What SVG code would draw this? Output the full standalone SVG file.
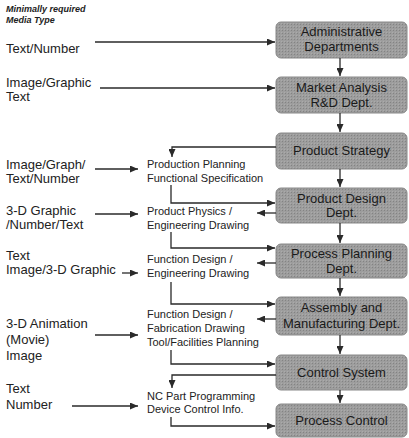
<svg xmlns="http://www.w3.org/2000/svg" width="409" height="438" viewBox="0 0 409 438">
<defs>
<marker id="ah" markerUnits="userSpaceOnUse" markerWidth="9" markerHeight="7" refX="8" refY="3.5" orient="auto">
<path d="M0,0 L8,3.5 L0,7 z" fill="#2a2a2a"/>
</marker>
<pattern id="ht" width="3" height="3" patternUnits="userSpaceOnUse">
<rect width="3" height="3" fill="#9d9d9d"/>
<rect width="1" height="1" fill="#838383"/>
<rect x="2" y="2" width="1" height="1" fill="#ababab"/>
</pattern>
</defs>
<style>
text{font-family:"Liberation Sans",Arial,sans-serif;fill:#222}
.hd{font-size:9px;font-weight:bold;font-style:italic}
.lb{font-size:13px}
.md{font-size:11px}
.bx text{font-size:13px;text-anchor:middle;fill:#1a1a1a}
.bx rect{fill:url(#ht);stroke:#888;stroke-width:1}
.cn path,.cn line{stroke:#2a2a2a;stroke-width:1.3;fill:none}
</style>
<rect width="409" height="438" fill="#fff"/>

<g id="heading">
<text class="hd" x="6" y="12">Minimally required</text>
<text class="hd" x="6" y="23">Media Type</text>
</g>

<g id="media-labels">
<text class="lb" x="6" y="53">Text/Number</text>
<text class="lb" x="6" y="87">Image/Graphic</text>
<text class="lb" x="6" y="101">Text</text>
<text class="lb" x="6" y="169">Image/Graph/</text>
<text class="lb" x="6" y="183">Text/Number</text>
<text class="lb" x="6" y="215">3-D Graphic</text>
<text class="lb" x="6" y="229">/Number/Text</text>
<text class="lb" x="6" y="260">Text</text>
<text class="lb" x="6" y="274">Image/3-D Graphic</text>
<text class="lb" x="6" y="328">3-D Animation</text>
<text class="lb" x="6" y="344">(Movie)</text>
<text class="lb" x="6" y="360">Image</text>
<text class="lb" x="6" y="393">Text</text>
<text class="lb" x="6" y="409">Number</text>
</g>

<g id="documents">
<text class="md" x="147" y="168">Production Planning</text>
<text class="md" x="147" y="182">Functional Specification</text>
<text class="md" x="147" y="215">Product Physics /</text>
<text class="md" x="147" y="229">Engineering Drawing</text>
<text class="md" x="147" y="263">Function Design /</text>
<text class="md" x="147" y="277">Engineering Drawing</text>
<text class="md" x="147" y="318">Function Design /</text>
<text class="md" x="147" y="332">Fabrication Drawing</text>
<text class="md" x="147" y="346">Tool/Facilities Planning</text>
<text class="md" x="147" y="400">NC Part Programming</text>
<text class="md" x="147" y="413">Device Control Info.</text>
</g>

<g id="admin" class="bx"><rect x="276" y="22" width="131" height="36" rx="5"/><text x="341.5" y="36">Administrative</text><text x="341.5" y="51">Departments</text></g>
<g id="market" class="bx"><rect x="276" y="77" width="131" height="36" rx="5"/><text x="341.5" y="92">Market Analysis</text><text x="341.5" y="107">R&amp;D Dept.</text></g>
<g id="strategy" class="bx"><rect x="276" y="133" width="131" height="36" rx="5"/><text x="341.5" y="155">Product Strategy</text></g>
<g id="design" class="bx"><rect x="276" y="188" width="131" height="35" rx="5"/><text x="341.5" y="203">Product Design</text><text x="341.5" y="217">Dept.</text></g>
<g id="process" class="bx"><rect x="276" y="244" width="131" height="34" rx="5"/><text x="341.5" y="258">Process Planning</text><text x="341.5" y="273">Dept.</text></g>
<g id="assembly" class="bx"><rect x="276" y="297" width="131" height="38" rx="5"/><text x="341.5" y="312">Assembly and</text><text x="341.5" y="328">Manufacturing Dept.</text></g>
<g id="control" class="bx"><rect x="276" y="355" width="131" height="35" rx="5"/><text x="341.5" y="377">Control System</text></g>
<g id="pcontrol" class="bx"><rect x="276" y="404" width="131" height="33" rx="5"/><text x="341.5" y="425">Process Control</text></g>

<g id="connectors" class="cn">
<line x1="95" y1="42" x2="275" y2="42" marker-end="url(#ah)"/>
<line x1="100" y1="88" x2="275" y2="88" marker-end="url(#ah)"/>
<line x1="95" y1="169" x2="138" y2="169" marker-end="url(#ah)"/>
<line x1="95" y1="214" x2="138" y2="214" marker-end="url(#ah)"/>
<line x1="122" y1="273" x2="138" y2="273" marker-end="url(#ah)"/>
<line x1="95" y1="335" x2="138" y2="335" marker-end="url(#ah)"/>
<line x1="72" y1="406" x2="138" y2="406" marker-end="url(#ah)"/>

<line x1="340" y1="58" x2="340" y2="76" marker-end="url(#ah)"/>
<line x1="340" y1="113" x2="340" y2="132" marker-end="url(#ah)"/>
<line x1="340" y1="169" x2="340" y2="187" marker-end="url(#ah)"/>
<line x1="340" y1="223" x2="340" y2="243" marker-end="url(#ah)"/>
<line x1="340" y1="278" x2="340" y2="296" marker-end="url(#ah)"/>
<line x1="340" y1="335" x2="340" y2="354" marker-end="url(#ah)"/>
<line x1="340" y1="390" x2="340" y2="403" marker-end="url(#ah)"/>

<path d="M276,147 H172 V157" marker-end="url(#ah)"/>
<path d="M171,185 V203 H275" marker-end="url(#ah)"/>
<line x1="276" y1="213" x2="257" y2="213" marker-end="url(#ah)"/>
<path d="M171,232 V248 H275" marker-end="url(#ah)"/>
<line x1="276" y1="263" x2="257" y2="263" marker-end="url(#ah)"/>
<path d="M171,282 V304 H275" marker-end="url(#ah)"/>
<line x1="276" y1="319" x2="257" y2="319" marker-end="url(#ah)"/>
<path d="M171,350 V364 H275" marker-end="url(#ah)"/>
<path d="M276,375 H172 V388" marker-end="url(#ah)"/>
<path d="M171,417 V426 H275" marker-end="url(#ah)"/>
</g>
</svg>
